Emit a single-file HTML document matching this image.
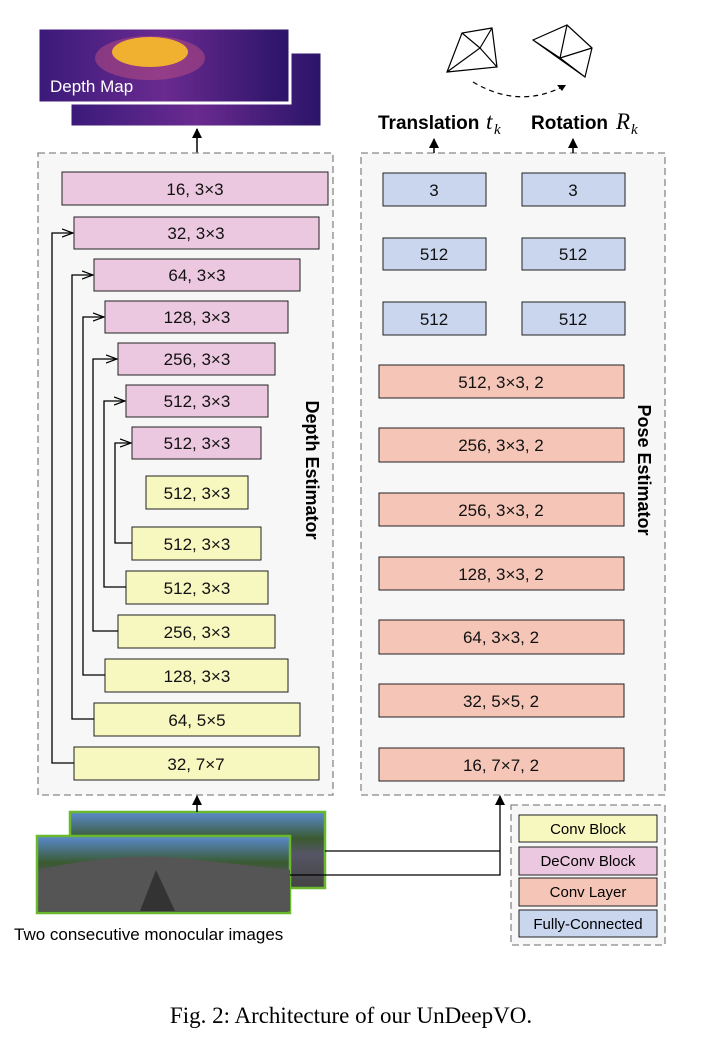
<!DOCTYPE html>
<html><head><meta charset="utf-8"><style>
body{margin:0;background:#fff}
svg text{font-family:"Liberation Sans",sans-serif}
svg .serif{font-family:"Liberation Serif",serif}
</style></head><body>
<svg width="702" height="1040" viewBox="0 0 702 1040" xmlns="http://www.w3.org/2000/svg">
<defs>
<linearGradient id="dm" x1="0" y1="0" x2="1" y2="0">
<stop offset="0" stop-color="#3a1a7a"/><stop offset="0.5" stop-color="#6a2a90"/><stop offset="1" stop-color="#2a1468"/>
</linearGradient>
<linearGradient id="road" x1="0" y1="0" x2="0" y2="1">
<stop offset="0" stop-color="#5a8ad0"/><stop offset="0.35" stop-color="#3a5a30"/><stop offset="0.55" stop-color="#556"/><stop offset="1" stop-color="#444"/>
</linearGradient>
<marker id="ah" markerWidth="10" markerHeight="10" refX="9" refY="5" orient="auto" markerUnits="userSpaceOnUse"><path d="M0,0 L10,5 L0,10 Z" fill="#000"/></marker>
<marker id="oa" markerWidth="12" markerHeight="10" refX="11" refY="5" orient="auto" markerUnits="userSpaceOnUse"><path d="M0,1 L11,5 L0,9" fill="none" stroke="#000" stroke-width="1.2"/></marker>
</defs>

<rect x="70" y="52" width="252" height="75" fill="url(#dm)" stroke="#fff" stroke-width="3"/>
<rect x="38" y="28" width="252" height="75" fill="url(#dm)" stroke="#fff" stroke-width="3"/>
<ellipse cx="150" cy="58" rx="55" ry="22" fill="#c05080" opacity="0.5"/>
<ellipse cx="150" cy="52" rx="38" ry="15" fill="#f0b030"/>
<text x="50" y="92" font-size="17" fill="#fff">Depth Map</text>
<line x1="197" y1="172" x2="197" y2="129" stroke="#000" stroke-width="1.5" marker-end="url(#ah)"/>

<rect x="38" y="153" width="295" height="642" fill="#f7f7f7" stroke="#888" stroke-width="1.3" stroke-dasharray="7,4"/>
<rect x="361" y="153" width="304" height="642" fill="#f7f7f7" stroke="#888" stroke-width="1.3" stroke-dasharray="7,4"/>

<g stroke="#222" stroke-width="1">
<g fill="#ecc8e0">
<rect x="62" y="172" width="266" height="33"/><rect x="74" y="217" width="245" height="32"/>
<rect x="94" y="259" width="206" height="32"/><rect x="105" y="301" width="183" height="32"/>
<rect x="118" y="343" width="157" height="32"/><rect x="126" y="385" width="142" height="32"/>
<rect x="132" y="427" width="129" height="32"/>
</g>
<g fill="#f7f7c0">
<rect x="146" y="476" width="102" height="33"/><rect x="132" y="527" width="129" height="33"/>
<rect x="126" y="571" width="142" height="33"/><rect x="118" y="615" width="157" height="33"/>
<rect x="105" y="659" width="183" height="33"/><rect x="94" y="703" width="206" height="33"/>
<rect x="74" y="747" width="245" height="33"/>
</g>
<g fill="#c9d6ee">
<rect x="383" y="173" width="103" height="33"/><rect x="522" y="173" width="103" height="33"/>
<rect x="383" y="238" width="103" height="32"/><rect x="522" y="238" width="103" height="32"/>
<rect x="383" y="302" width="103" height="33"/><rect x="522" y="302" width="103" height="33"/>
</g>
<g fill="#f5c6b8">
<rect x="379" y="365" width="245" height="33"/><rect x="379" y="428" width="245" height="34"/>
<rect x="379" y="493" width="245" height="33"/><rect x="379" y="557" width="245" height="33"/>
<rect x="379" y="620" width="245" height="34"/><rect x="379" y="684" width="245" height="33"/>
<rect x="379" y="748" width="245" height="33"/>
</g>
</g>
<g font-size="17" text-anchor="middle" fill="#111">
<text x="195" y="195">16, 3×3</text><text x="196" y="239">32, 3×3</text>
<text x="197" y="281">64, 3×3</text><text x="197" y="323">128, 3×3</text>
<text x="197" y="365">256, 3×3</text><text x="197" y="407">512, 3×3</text>
<text x="197" y="449">512, 3×3</text><text x="197" y="499">512, 3×3</text>
<text x="197" y="550">512, 3×3</text><text x="197" y="594">512, 3×3</text>
<text x="197" y="638">256, 3×3</text><text x="197" y="682">128, 3×3</text>
<text x="197" y="726">64, 5×5</text><text x="196" y="770">32, 7×7</text>
<text x="434" y="196">3</text><text x="573" y="196">3</text>
<text x="434" y="260">512</text><text x="573" y="260">512</text>
<text x="434" y="325">512</text><text x="573" y="325">512</text>
<text x="501" y="388">512, 3×3, 2</text><text x="501" y="451">256, 3×3, 2</text>
<text x="501" y="516">256, 3×3, 2</text><text x="501" y="580">128, 3×3, 2</text>
<text x="501" y="643">64, 3×3, 2</text><text x="501" y="707">32, 5×5, 2</text>
<text x="501" y="771">16, 7×7, 2</text>
</g>

<g fill="none" stroke="#000" stroke-width="1.3">
<path d="M74,763 H52 V233 H73" marker-end="url(#oa)"/>
<path d="M94,719 H72 V275 H93" marker-end="url(#oa)"/>
<path d="M105,675 H83 V317 H104" marker-end="url(#oa)"/>
<path d="M118,631 H93 V359 H117" marker-end="url(#oa)"/>
<path d="M126,587 H104 V401 H125" marker-end="url(#oa)"/>
<path d="M132,543 H115 V443 H131" marker-end="url(#oa)"/>
</g>

<text transform="translate(306,470) rotate(90)" font-size="18" font-weight="bold" text-anchor="middle">Depth Estimator</text>
<text transform="translate(638,470) rotate(90)" font-size="18" font-weight="bold" text-anchor="middle">Pose Estimator</text>

<line x1="434" y1="153" x2="434" y2="139" stroke="#000" stroke-width="1.5" marker-end="url(#ah)"/>
<line x1="573" y1="153" x2="573" y2="139" stroke="#000" stroke-width="1.5" marker-end="url(#ah)"/>
<text x="378" y="129" font-size="19" font-weight="bold">Translation</text>
<text x="486" y="129" class="serif" font-size="23" font-style="italic">t</text>
<text x="494" y="134" class="serif" font-size="15" font-style="italic">k</text>
<text x="531" y="129" font-size="19" font-weight="bold">Rotation</text>
<text x="616" y="129" class="serif" font-size="23" font-style="italic">R</text>
<text x="631" y="134" class="serif" font-size="15" font-style="italic">k</text>
<g fill="none" stroke="#000" stroke-width="1.2">
<path d="M447,72 L462,33 L492,28 L497,67 Z M447,72 L480,48 L462,33 M480,48 L492,28 M480,48 L497,67"/>
<path d="M533,40 L567,25 L592,48 L585,77 Z M533,40 L560,58 L567,25 M560,58 L585,77 M560,58 L592,48"/>
<path d="M473,82 Q520,110 566,85" stroke-dasharray="5,4"/>
</g>
<path d="M566,85 l-9,0 l5,6 z" fill="#000"/>

<rect x="70" y="812" width="255" height="76" fill="url(#road)" stroke="#6ab82e" stroke-width="2.5"/>
<rect x="37" y="836" width="253" height="77" fill="url(#road)" stroke="#6ab82e" stroke-width="2.5"/>
<path d="M39,870 Q120,850 200,860 L290,870 L290,911 L39,911Z" fill="#555"/>
<path d="M140,911 L156,870 L175,911Z" fill="#333"/>
<line x1="197" y1="812" x2="197" y2="796" stroke="#000" stroke-width="1.5" marker-end="url(#ah)"/>
<path d="M325,851 H500 M290,875 H500 V796" fill="none" stroke="#000" stroke-width="1.3" marker-end="url(#ah)"/>
<text x="14" y="940" font-size="17">Two consecutive monocular images</text>

<rect x="511" y="805" width="154" height="140" fill="#f7f7f7" stroke="#888" stroke-width="1.3" stroke-dasharray="7,4"/>
<g stroke="#222" stroke-width="1">
<rect x="519" y="815" width="138" height="27" fill="#f7f7c0"/>
<rect x="519" y="847" width="138" height="28" fill="#ecc8e0"/>
<rect x="519" y="878" width="138" height="28" fill="#f5c6b8"/>
<rect x="519" y="910" width="138" height="27" fill="#c9d6ee"/>
</g>
<g font-size="15" text-anchor="middle">
<text x="588" y="834">Conv Block</text><text x="588" y="866">DeConv Block</text>
<text x="588" y="897">Conv Layer</text><text x="588" y="929">Fully-Connected</text>
</g>

<text x="351" y="1023" class="serif" font-size="23" text-anchor="middle">Fig. 2: Architecture of our UnDeepVO.</text>
</svg>
</body></html>
